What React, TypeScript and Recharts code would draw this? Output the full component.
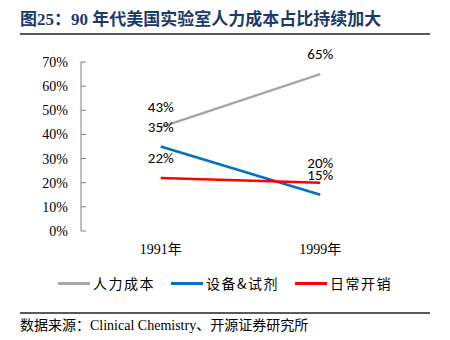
import { LabelList, Line, LineChart, XAxis, YAxis } from 'recharts';

const years = ['1991年', '1999年'];
const laborCost = [43, 65];
const equipment = [35, 15];
const overhead = [22, 20];
const yTicks = [0, 10, 20, 30, 40, 50, 60, 70];
const edgeTicks = [0, 1, 2];

const series = [
  { key: 'labor', name: '人力成本', color: '#A6A6A6', values: laborCost },
  { key: 'equip', name: '设备&试剂', color: '#0070C0', values: equipment },
  { key: 'other', name: '日常开销', color: '#FF0000', values: overhead },
];

const data = years.map((year, i) => {
  const row: Record<string, string | number> = { year };
  series.forEach((s) => {
    row[s.key] = s.values[i];
  });
  return row;
});

const serif = '"Liberation Serif", "Times New Roman", "Noto Sans CJK SC", serif';
const cjk = '"Liberation Serif", "Noto Sans CJK SC", serif';

export default function App() {
  return (
    <div style={{ position: 'absolute', left: 0, top: 0, width: 450, height: 340, background: '#fff' }}>
      <div
        style={{
          position: 'absolute',
          left: 20,
          top: 9,
          fontFamily: '"Liberation Serif", "Noto Sans CJK SC", serif',
          fontWeight: 700,
          fontSize: 17,
          color: '#1B3A6B',
          whiteSpace: 'nowrap',
          lineHeight: '22px',
        }}
      >
        图25：90 年代美国实验室人力成本占比持续加大
      </div>
      <div style={{ position: 'absolute', left: 20, top: 33, width: 410, height: 1.5, background: '#595959' }} />

      <LineChart width={450} height={340} data={data} margin={{ top: 62, right: 50, left: 0, bottom: 79 }}>
        <XAxis
          xAxisId="edge"
          type="number"
          domain={[0, 2]}
          ticks={edgeTicks}
          allowDataOverflow
          height={0}
          tickSize={-4}
          tickFormatter={() => ''}
          stroke="#7F7F7F"
        />
        <XAxis
          dataKey="year"
          scale="band"
          height={30}
          axisLine={false}
          tickLine={false}
          tickSize={0}
          tickMargin={13}
          tick={{ fontSize: 14, fill: '#000', fontFamily: cjk }}
        />
        <YAxis
          width={81}
          domain={[0, 70]}
          ticks={yTicks}
          tickFormatter={(v: number) => `${v}%`}
          tickSize={-5}
          tickMargin={18}
          stroke="#7F7F7F"
          tick={{ fontSize: 14, fill: '#000', fontFamily: serif }}
        />
        {series.map((s) => (
          <Line
            key={s.key}
            dataKey={s.key}
            name={s.name}
            stroke={s.color}
            strokeWidth={2.5}
            dot={false}
            isAnimationActive={false}
          >
            <LabelList
              dataKey={s.key}
              position="top"
              offset={15}
              formatter={(v: number) => `${v}%`}
              style={{ fontSize: 15, fill: '#000', fontFamily: 'Carlito, Lato, sans-serif' }}
            />
          </Line>
        ))}
      </LineChart>

      <div
        style={{
          position: 'absolute',
          left: 0,
          top: 273,
          width: 450,
          display: 'flex',
          justifyContent: 'center',
          gap: 16,
          fontFamily: '"Noto Sans CJK SC", sans-serif',
          fontSize: 14,
          lineHeight: '20px',
        }}
      >
        {series.map((s) => (
          <div key={s.key} style={{ display: 'flex', alignItems: 'center', gap: 3 }}>
            <span style={{ display: 'inline-block', width: 32, height: 3, background: s.color }} />
            <span style={{ letterSpacing: 1.5 }}>{s.name}</span>
          </div>
        ))}
      </div>

      <div style={{ position: 'absolute', left: 20, top: 312, width: 410, height: 1.5, background: '#595959' }} />
      <div
        style={{
          position: 'absolute',
          left: 20,
          top: 316,
          fontFamily: cjk,
          fontSize: 14,
          lineHeight: '20px',
          whiteSpace: 'nowrap',
          color: '#000',
        }}
      >
        数据来源：Clinical Chemistry、开源证券研究所
      </div>
    </div>
  );
}
